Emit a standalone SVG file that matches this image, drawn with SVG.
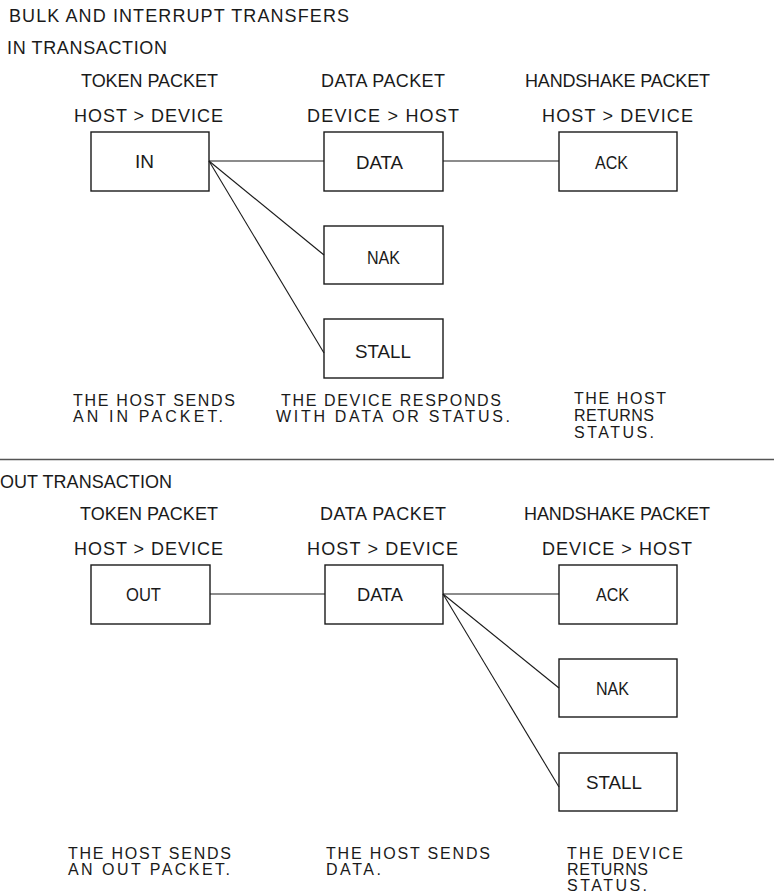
<svg xmlns="http://www.w3.org/2000/svg" width="774" height="895" viewBox="0 0 774 895">
<style>
text{font-family:"Liberation Sans","DejaVu Sans",Arial,sans-serif;font-size:18px;fill:#1a1a1a}
.box rect{fill:none;stroke:#1a1a1a;stroke-width:1.4}
.box text{font-size:17.5px}
.desc{font-size:16px}
.conn line{stroke:#1a1a1a;stroke-width:1.1}
.div{stroke:#555;stroke-width:1.6}
</style>
<rect width="774" height="895" fill="#fff"/>
<text x="9" y="22" textLength="340">BULK AND INTERRUPT TRANSFERS</text>
<text x="7" y="54" textLength="160">IN TRANSACTION</text>
<text x="81" y="87" textLength="137">TOKEN PACKET</text>
<text x="74" y="122" textLength="149">HOST &gt; DEVICE</text>
<text x="321" y="87" textLength="124">DATA PACKET</text>
<text x="307" y="122" textLength="152">DEVICE &gt; HOST</text>
<text x="525" y="87" textLength="185">HANDSHAKE PACKET</text>
<text x="542" y="122" textLength="151">HOST &gt; DEVICE</text>
<g class="conn">
<line x1="209" y1="161" x2="324" y2="161"/>
<line x1="443" y1="161" x2="559" y2="161"/>
<line x1="209" y1="161" x2="324" y2="255"/>
<line x1="209" y1="161" x2="324" y2="353"/>
<line x1="210" y1="594" x2="325" y2="594"/>
<line x1="443" y1="594" x2="559" y2="594"/>
<line x1="443" y1="594" x2="559" y2="688"/>
<line x1="443" y1="594" x2="559" y2="787"/>
</g>
<g id="in" class="box"><rect x="91" y="132" width="118" height="59"/><text x="135" y="168" textLength="19" lengthAdjust="spacingAndGlyphs">IN</text></g>
<g id="data-in" class="box"><rect x="324" y="132" width="119" height="59"/><text x="356" y="169" textLength="47" lengthAdjust="spacingAndGlyphs">DATA</text></g>
<g id="ack-in" class="box"><rect x="559" y="132" width="118" height="59"/><text x="595" y="169" textLength="33" lengthAdjust="spacingAndGlyphs">ACK</text></g>
<g id="nak-in" class="box"><rect x="324" y="226" width="119" height="58"/><text x="367" y="264" textLength="33" lengthAdjust="spacingAndGlyphs">NAK</text></g>
<g id="stall-in" class="box"><rect x="324" y="319" width="119" height="59"/><text x="355" y="358" textLength="56" lengthAdjust="spacingAndGlyphs">STALL</text></g>
<text class="desc" x="73" y="406" textLength="162">THE HOST SENDS</text>
<text class="desc" x="73" y="422" textLength="150">AN IN PACKET.</text>
<text class="desc" x="281" y="406" textLength="220">THE DEVICE RESPONDS</text>
<text class="desc" x="276" y="422" textLength="234">WITH DATA OR STATUS.</text>
<text class="desc" x="574" y="404" textLength="92">THE HOST</text>
<text class="desc" x="574" y="421" textLength="80">RETURNS</text>
<text class="desc" x="574" y="438" textLength="80">STATUS.</text>
<line class="div" x1="0" y1="459.5" x2="774" y2="459.5"/>
<text x="0" y="488" textLength="172">OUT TRANSACTION</text>
<text x="80" y="520" textLength="138">TOKEN PACKET</text>
<text x="74" y="555" textLength="149">HOST &gt; DEVICE</text>
<text x="320" y="520" textLength="126">DATA PACKET</text>
<text x="307" y="555" textLength="151">HOST &gt; DEVICE</text>
<text x="524" y="520" textLength="186">HANDSHAKE PACKET</text>
<text x="542" y="555" textLength="150">DEVICE &gt; HOST</text>
<g id="out" class="box"><rect x="91" y="565" width="119" height="59"/><text x="126" y="601" textLength="35" lengthAdjust="spacingAndGlyphs">OUT</text></g>
<g id="data-out" class="box"><rect x="325" y="565" width="118" height="59"/><text x="357" y="601" textLength="46" lengthAdjust="spacingAndGlyphs">DATA</text></g>
<g id="ack-out" class="box"><rect x="559" y="565" width="118" height="59"/><text x="596" y="601" textLength="33" lengthAdjust="spacingAndGlyphs">ACK</text></g>
<g id="nak-out" class="box"><rect x="559" y="659" width="118" height="58"/><text x="596" y="695" textLength="33" lengthAdjust="spacingAndGlyphs">NAK</text></g>
<g id="stall-out" class="box"><rect x="559" y="753" width="118" height="58"/><text x="586" y="789" textLength="56" lengthAdjust="spacingAndGlyphs">STALL</text></g>
<text class="desc" x="68" y="859" textLength="163">THE HOST SENDS</text>
<text class="desc" x="68" y="875" textLength="162">AN OUT PACKET.</text>
<text class="desc" x="326" y="859" textLength="164">THE HOST SENDS</text>
<text class="desc" x="326" y="875" textLength="55">DATA.</text>
<text class="desc" x="567" y="859" textLength="116">THE DEVICE</text>
<text class="desc" x="567" y="875" textLength="81">RETURNS</text>
<text class="desc" x="567" y="891" textLength="80">STATUS.</text>
</svg>
